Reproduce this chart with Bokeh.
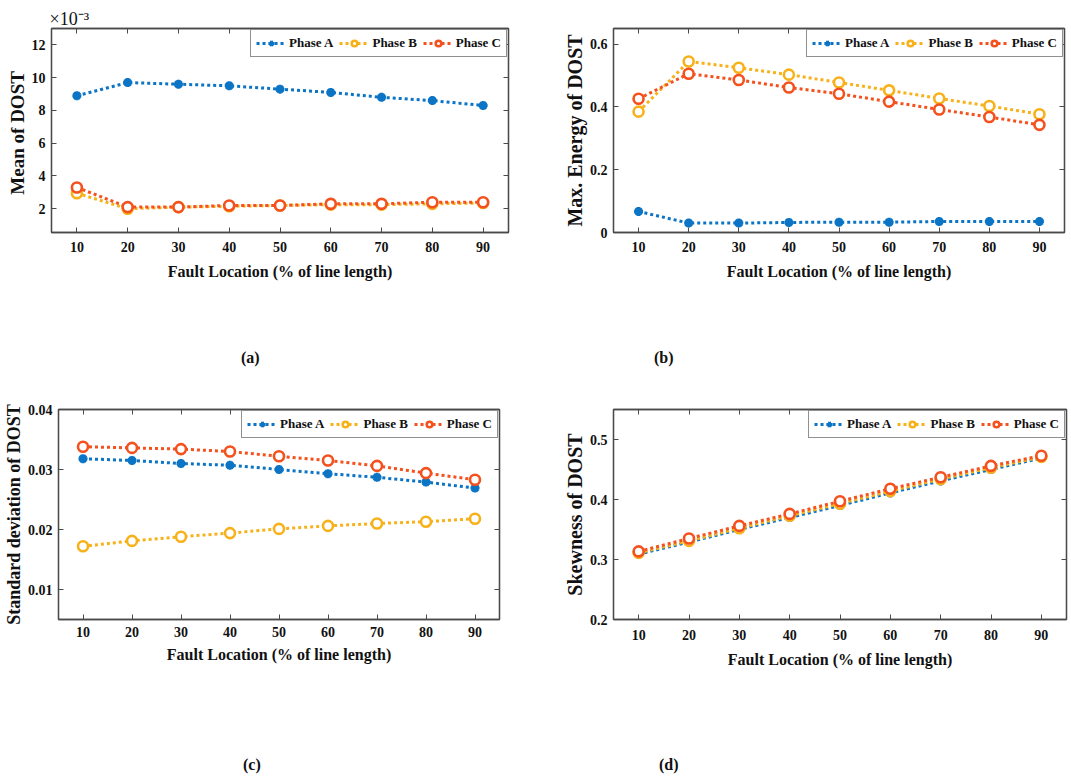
from bokeh.plotting import figure
from bokeh.models import (Legend, LegendItem, LinearAxis, FixedTicker, Range1d,
                          Title, Div, CustomJSTickFormatter)
from bokeh.layouts import row, column
from bokeh.embed import file_html
from bokeh.resources import INLINE

# ---------------- data ----------------
locations = [10, 20, 30, 40, 50, 60, 70, 80, 90]
series_names = ["Phase A", "Phase B", "Phase C"]

# (a) Mean of DOST, values in units of 1e-3
mean_a = [8.9, 9.7, 9.6, 9.5, 9.3, 9.1, 8.8, 8.6, 8.3]
mean_b = [2.95, 2.0, 2.1, 2.15, 2.2, 2.25, 2.25, 2.3, 2.35]
mean_c = [3.3, 2.1, 2.1, 2.2, 2.2, 2.3, 2.3, 2.4, 2.4]

# (b) Max. Energy of DOST
energy_a = [0.067, 0.030, 0.030, 0.032, 0.033, 0.033, 0.035, 0.035, 0.035]
energy_b = [0.385, 0.545, 0.525, 0.503, 0.478, 0.453, 0.427, 0.403, 0.377]
energy_c = [0.426, 0.506, 0.486, 0.462, 0.442, 0.417, 0.392, 0.368, 0.343]

# (c) Standard deviation of DOST
std_a = [0.0318, 0.0315, 0.0310, 0.0307, 0.0300, 0.0293, 0.0287, 0.0279, 0.0269]
std_b = [0.0172, 0.0181, 0.0188, 0.0194, 0.0201, 0.0206, 0.0210, 0.0213, 0.0218]
std_c = [0.0338, 0.0336, 0.0334, 0.0330, 0.0322, 0.0315, 0.0306, 0.0294, 0.0283]

# (d) Skewness of DOST
skew_a = [0.309, 0.329, 0.350, 0.370, 0.390, 0.411, 0.431, 0.450, 0.469]
skew_b = [0.311, 0.331, 0.352, 0.373, 0.393, 0.414, 0.434, 0.453, 0.471]
skew_c = [0.3135, 0.335, 0.356, 0.376, 0.397, 0.418, 0.437, 0.456, 0.473]

x_ticks = [10, 20, 30, 40, 50, 60, 70, 80, 90]
x_tick_labels = ["10", "20", "30", "40", "50", "60", "70", "80", "90"]
mean_ticks = [2, 4, 6, 8, 10, 12]
mean_tick_labels = ["2", "4", "6", "8", "10", "12"]
energy_ticks = [0, 0.2, 0.4, 0.6]
energy_tick_labels = ["0", "0.2", "0.4", "0.6"]
std_ticks = [0.01, 0.02, 0.03, 0.04]
std_tick_labels = ["0.01", "0.02", "0.03", "0.04"]
skew_ticks = [0.2, 0.3, 0.4, 0.5]
skew_tick_labels = ["0.2", "0.3", "0.4", "0.5"]

x_label = "Fault Location (% of line length)"
panel_tags = ["(a)", "(b)", "(c)", "(d)"]

# ---------------- style ----------------
FONT = "Liberation Serif"
AX = "#4a4a4a"
COLORS = ["#0B74C4", "#F7B21B", "#F4511E"]
MARKERS = ["asterisk", "circle", "circle"]


def make_panel(width, height, borders, y_range, series, yticks, ylabels,
               ylabel, ylabel_size, x_std=9, xl_std=8):
    bl, br, bt, bb = borders
    p = figure(width=width, height=height, output_backend="svg",
               toolbar_location=None,
               x_range=Range1d(5, 95), y_range=Range1d(*y_range),
               min_border_left=bl, min_border_right=br,
               min_border_top=bt, min_border_bottom=bb)
    p.xgrid.visible = False
    p.ygrid.visible = False
    p.outline_line_color = AX
    p.outline_line_width = 1.3
    p.background_fill_color = "white"
    p.border_fill_color = "white"

    xa = p.xaxis[0]
    xa.ticker = FixedTicker(ticks=x_ticks)
    xa.major_label_overrides = {t: l for t, l in zip(x_ticks, x_tick_labels)}
    xa.axis_label = x_label
    ya = p.yaxis[0]
    ya.ticker = FixedTicker(ticks=yticks)
    ya.major_label_overrides = {t: l for t, l in zip(yticks, ylabels)}
    ya.axis_label = ylabel
    for ax in (xa, ya):
        ax.axis_line_color = AX
        ax.axis_line_width = 1.3
        ax.major_tick_line_color = AX
        ax.major_tick_in = 5
        ax.major_tick_out = 0
        ax.minor_tick_line_color = None
        ax.major_label_text_font = FONT
        ax.major_label_text_font_style = "bold"
        ax.major_label_text_font_size = "14px"
        ax.major_label_text_color = "#111111"
        ax.axis_label_text_font = FONT
        ax.axis_label_text_font_style = "bold"
        ax.axis_label_text_color = "#111111"
    xa.major_label_standoff = x_std
    xa.axis_label_standoff = xl_std
    xa.axis_label_text_font_size = "16px"
    ya.major_label_standoff = 6
    ya.axis_label_standoff = 1
    ya.axis_label_text_font_size = ylabel_size

    # mirrored box ticks (top and right), no labels
    for side, tk in (("above", x_ticks), ("right", yticks)):
        a = LinearAxis(ticker=FixedTicker(ticks=tk),
                       formatter=CustomJSTickFormatter(code="return ''"))
        a.major_label_standoff = 0
        a.major_tick_in = 5
        a.major_tick_out = 0
        a.minor_tick_line_color = None
        a.major_tick_line_color = AX
        a.axis_line_color = AX
        a.axis_line_width = 1.3
        p.add_layout(a, side)

    items = []
    for name, ys, col, mk in zip(series_names, series, COLORS, MARKERS):
        ln = p.line(locations, ys, line_color=col, line_width=3,
                    line_dash="3 3")
        if mk == "asterisk":
            sc = p.scatter(locations, ys, marker="asterisk", size=9,
                           line_color=col, line_width=3)
        else:
            sc = p.scatter(locations, ys, marker="circle", size=10,
                           line_color=col, line_width=2.6, fill_color="white")
        items.append(LegendItem(label=name, renderers=[ln, sc]))

    leg = Legend(items=items, orientation="horizontal", location="top_right")
    leg.label_text_font = FONT
    leg.label_text_font_style = "bold"
    leg.label_text_font_size = "13px"
    leg.label_text_color = "#111111"
    leg.glyph_width = 30
    leg.glyph_height = 14
    leg.label_height = 14
    leg.label_standoff = 3
    leg.spacing = 6
    leg.padding = 5
    leg.margin = 1
    leg.border_line_color = "#222222"
    leg.border_line_width = 1.2
    leg.background_fill_color = "white"
    leg.background_fill_alpha = 1
    p.add_layout(leg)
    return p


def tag_div(text, width, height, left, top):
    html = ('<div style="padding-left:%dpx;padding-top:%dpx;'
            "font-family:'Liberation Serif';font-weight:bold;font-size:16px;"
            'line-height:18px;color:#111111;">%s</div>' % (left, top, text))
    return Div(text=html, width=width, height=height, margin=0)


pa = make_panel(540, 300, (51, 32, 28, 67), (0.55, 13.0),
                [mean_a, mean_b, mean_c], mean_ticks, mean_tick_labels,
                "Mean of  DOST", "19px")
pa.add_layout(Title(text="\u00d710\u207b\u00b3", align="left", offset=-2,
                    standoff=0, text_font=FONT, text_font_size="18px",
                    text_font_style="normal", text_color="#111111"), "above")

pb = make_panel(531, 300, (73, 7, 13, 68), (0.0, 0.65),
                [energy_a, energy_b, energy_c], energy_ticks, energy_tick_labels,
                "Max. Energy of DOST", "20px")

pc = make_panel(540, 300, (54, 41, 19, 57), (0.005, 0.04),
                [std_a, std_b, std_c], std_ticks, std_tick_labels,
                "Standard deviation of DOST", "18px", x_std=7, xl_std=6)

pd_ = make_panel(531, 300, (73, 5, 14, 71), (0.2, 0.55),
                 [skew_a, skew_b, skew_c], skew_ticks, skew_tick_labels,
                 "Skewness of DOST", "20px", x_std=10, xl_std=8)

da = tag_div(panel_tags[0], 540, 90, 241, 49)
db = tag_div(panel_tags[1], 531, 90, 114, 49)
dc = tag_div(panel_tags[2], 540, 86, 243, 66)
dd = tag_div(panel_tags[3], 531, 86, 119, 66)

layout = column(row(pa, pb), row(da, db), row(pc, pd_), row(dc, dd))
open("out.html", "w").write(file_html(layout, INLINE))
